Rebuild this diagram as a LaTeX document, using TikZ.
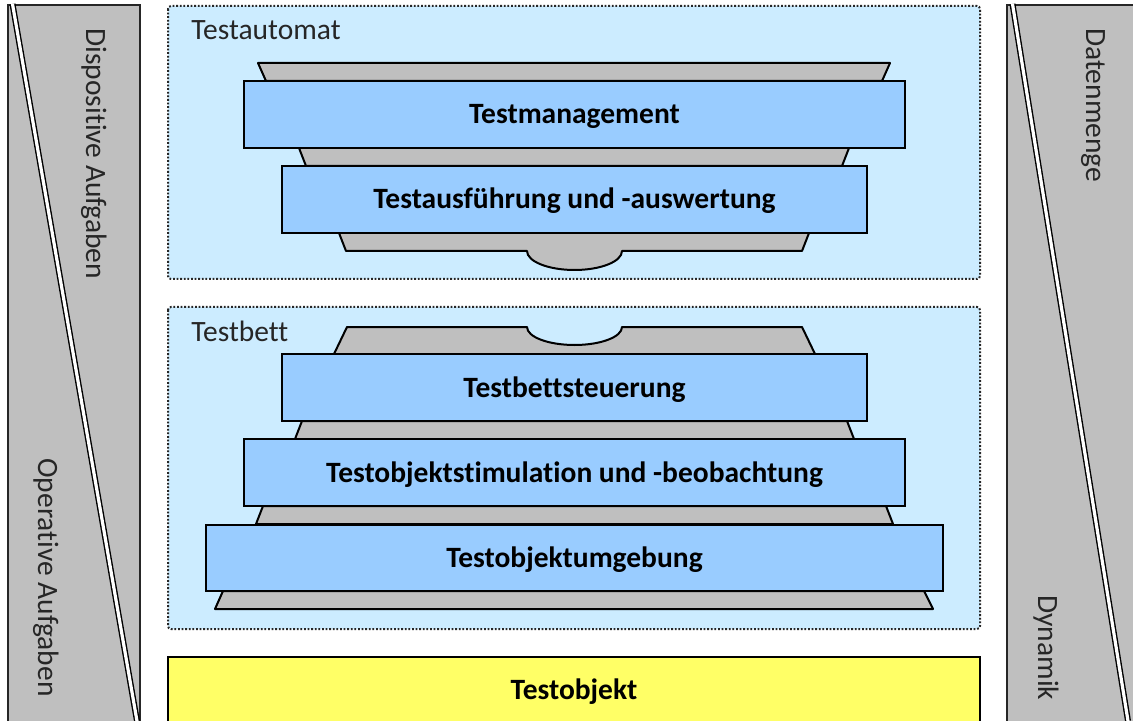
\documentclass[tikz,border=0pt]{standalone}
\usepackage{fontspec}
\setmainfont{Carlito}[Ligatures=NoCommon]
\definecolor{paleblue}{HTML}{CCECFF}
\definecolor{layerblue}{HTML}{99CCFF}
\definecolor{layergray}{HTML}{BFBFBF}
\definecolor{objyellow}{HTML}{FFFF66}
\begin{document}
\begin{tikzpicture}[x=0.5pt,y=-0.5pt,
    bar/.style={draw=black!85,fill=layergray,line width=.75pt},
    split/.style={draw=black,line width=.7pt,double=white,double distance=1.6pt},
    container/.style={fill=paleblue,draw=black!85,line width=1pt,dash pattern=on .9pt off .9pt,rounded corners=1.5pt}]
    \tikzstyle{layer}=[draw,fill=layerblue,line width=1pt,minimum height=33.5pt,inner sep=0pt,text height=9.5pt,text depth=0pt,font=\fontsize{14.75}{17}\selectfont\bfseries]
    \tikzstyle{base}=[draw,fill=layergray,line width=1pt,line join=round]
    \tikzstyle{sidetext}=[rotate=-90,anchor=base west,inner sep=0pt,text=black!85,font=\fontsize{14.75}{17}\selectfont]
    \tikzstyle{boxtext}=[anchor=base west,inner sep=0pt,text=black!85,font=\fontsize{14.75}{17}\selectfont]

    \useasboundingbox (0,0) rectangle (1133,721);
    \fill[white] (0,0) rectangle (1133,721);

    % side bars
    \draw[bar] (8,5) rectangle (140,740);
    \draw[split] (12.5,4) -- (137,721);
    \draw[bar] (1007,5) rectangle (1150,740);
    \draw[split] (1012.5,4) -- (1128,721);
    \node[sidetext] (dispo) at (86,28) {Dispositive Aufgaben};
    \node[sidetext] (opera) at (38,458) {Operative Aufgaben};
    \node[sidetext] (daten) at (1086,28) {Datenmenge};
    \node[sidetext] (dynamik) at (1038,595) {Dynamik};

    % Testautomat
    \draw[container] (168,6) rectangle (980,279);
    \node[boxtext] (automat) at (191,40) {Testautomat};
    \draw[base] (258,63) -- (890,63) -- (882,81) -- (266,81) -- cycle;
    \draw[base] (299,148) -- (849,148) -- (842,166) -- (306,166) -- cycle;
    \draw[base] (339,233) -- (809,233) -- (802,251) -- (622,251)
        arc[start angle=0,end angle=-180,x radius=23.75pt,y radius=9.5pt]
        -- (346,251) -- cycle;
    \node[layer,minimum width=330.5pt] (mgmt) at (574.5,114.5) {Testmanagement};
    \node[layer,minimum width=292.5pt] (ausf) at (574.5,199.5) {Testausführung und -auswertung};

    % Testbett
    \draw[container] (168,307) rectangle (980,629);
    \node[boxtext] (bett) at (191,341) {Testbett};
    \draw[base] (347,327) -- (527,327)
        arc[start angle=180,end angle=360,x radius=23.75pt,y radius=9pt]
        -- (802,327) -- (815,354) -- (334,354) -- cycle;
    \draw[base] (302,421) -- (847,421) -- (854,439) -- (295,439) -- cycle;
    \draw[base] (263,506) -- (886,506) -- (893,524) -- (256,524) -- cycle;
    \draw[base] (223,591) -- (924,591) -- (933,609) -- (215,609) -- cycle;
    \node[layer,minimum width=292.5pt] (steuer) at (574.5,387.5) {Testbettsteuerung};
    \node[layer,minimum width=330.5pt] (stim) at (574.5,472.5) {Testobjektstimulation und -beobachtung};
    \node[layer,minimum width=368.5pt,minimum height=33pt] (umgeb) at (574.5,558) {Testobjektumgebung};

    % Testobjekt
    \draw[line width=.8pt,fill=objyellow] (168,657) rectangle (980,740);
    \node[inner sep=0pt,text height=9.5pt,text depth=0pt,font=\fontsize{14.75}{17}\selectfont\bfseries] (objekt) at (574,690) {Testobjekt};

\end{tikzpicture}
\end{document}
